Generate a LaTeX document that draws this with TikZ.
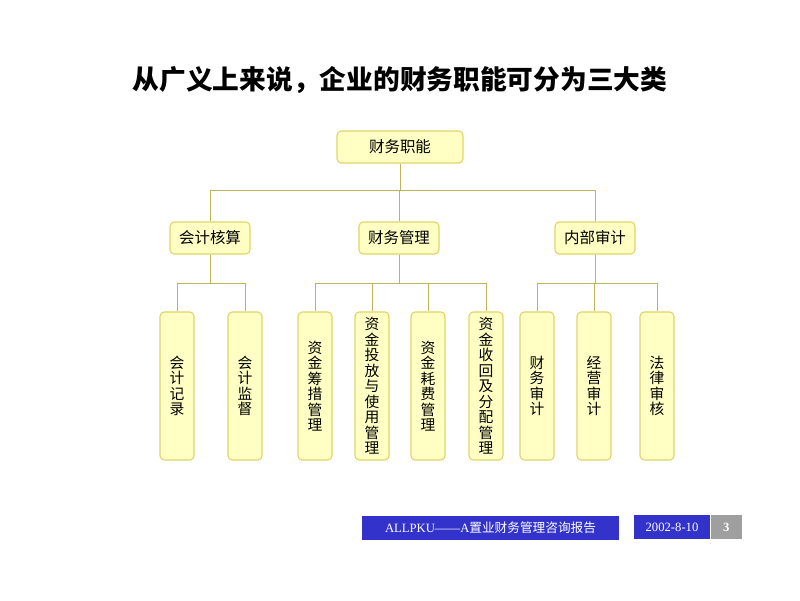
\documentclass[tikz,border=0pt]{standalone}
\usepackage{fontspec}
\setmainfont{Noto Sans CJK SC}
\newfontfamily\serif{Liberation Serif}
\usepackage{tikz}
\usetikzlibrary{positioning}
\definecolor{boxfill}{HTML}{FFFFC4}
\definecolor{boxline}{HTML}{E2D46A}
\definecolor{footblue}{HTML}{3333CC}
\tikzset{
  box/.style={draw=boxline,fill=boxfill,rounded corners=3pt,line width=0.8pt,minimum height=0.8cm,font=\fontsize{11pt}{13pt}\selectfont},
  leaf/.style={box,minimum width=0.85cm,minimum height=3.7cm,text width=0.4cm,align=center,inner sep=1pt,font=\fontsize{10.5pt}{11pt}\selectfont},
  link/.style={draw=boxline!85!black,line width=0.7pt}
}
\begin{document}
\begin{tikzpicture}[x=0.025cm,y=-0.025cm]
\useasboundingbox (0,0) rectangle (800,600);
\node (title) at (400,80) {\fontsize{19pt}{22pt}\selectfont\bfseries 从广义上来说，企业的财务职能可分为三大类};
\node[box,minimum width=3.15cm] (root) at (400,147) {财务职能};
\node[box,minimum width=2cm] (acc) at (210,238) {会计核算};
\node[box,minimum width=2cm] (fin) at (399,238) {财务管理};
\node[box,minimum width=2cm] (aud) at (595,238) {内部审计};
\node[leaf] (l1) at (177,386) {会\\计\\记\\录};
\node[leaf] (l2) at (245,386) {会\\计\\监\\督};
\node[leaf] (l3) at (315,386) {资\\金\\筹\\措\\管\\理};
\node[leaf] (l4) at (372,386) {资\\金\\投\\放\\与\\使\\用\\管\\理};
\node[leaf] (l5) at (428,386) {资\\金\\耗\\费\\管\\理};
\node[leaf] (l6) at (486,386) {资\\金\\收\\回\\及\\分\\配\\管\\理};
\node[leaf] (l7) at (537,386) {财\\务\\审\\计};
\node[leaf] (l8) at (594,386) {经\\营\\审\\计};
\node[leaf] (l9) at (657,386) {法\\律\\审\\核};
\coordinate (rb) at (400,190);
\path[link] (root.south) -- (rb) (acc.north) |- (rb) (aud.north) |- (rb) (fin.north) -- (fin.north|-rb);
\foreach \p/\a/\b in {acc/l1/l2,fin/l3/l6,aud/l7/l9}{
  \path[link] (\p.south) -- ++(0,29) coordinate (\p b);
  \path[link] (\a.north) |- (\p b) -| (\b.north);
}
\path[link] (l4.north) -- (l4.north|-finb) (l5.north) -- (l5.north|-finb) (l8.north) -- (l8.north|-audb);
\node[fill=footblue,text=white,minimum width=6.42cm,minimum height=0.6cm,font=\fontsize{9pt}{10pt}\selectfont] (foot) at (490.5,528) {{\serif ALLPKU——A}置业财务管理咨询报告};
\node[fill=footblue,text=white,minimum width=1.9cm,minimum height=0.6cm,font=\serif\fontsize{9pt}{10pt}\selectfont] (date) at (672,527) {2002-8-10};
\node[fill=gray!75,text=white,minimum width=0.78cm,minimum height=0.6cm,font=\serif\bfseries\fontsize{9pt}{10pt}\selectfont,right=0pt of date] (page) {3};
\end{tikzpicture}
\end{document}
